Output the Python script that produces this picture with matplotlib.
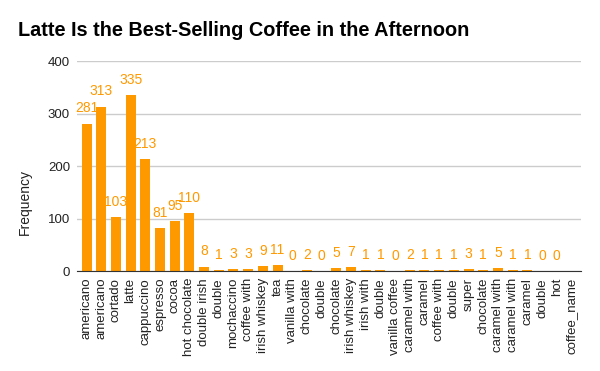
import numpy as np
import matplotlib
matplotlib.use("Agg")
import matplotlib.pyplot as plt

plt.rcParams["font.family"] = ["Liberation Sans", "DejaVu Sans"]

categories = ["americano", "americano", "cortado", "latte", "cappuccino", "espresso",
              "cocoa", "hot chocolate", "double irish", "double", "mochaccino",
              "coffee with", "irish whiskey", "tea", "vanilla with", "chocolate",
              "double", "chocolate", "irish whiskey", "irish with", "double",
              "vanilla coffee", "caramel with", "caramel", "coffee with", "double",
              "super", "chocolate", "caramel with", "caramel with", "caramel",
              "double", "hot", "coffee_name"]
frequency = [281, 313, 103, 335, 213, 81, 95, 110, 8, 1, 3, 3, 9, 11, 0, 2, 0, 5, 7,
             1, 1, 0, 2, 1, 1, 1, 3, 1, 5, 1, 1, 0, 0, np.nan]
yticks = [0, 100, 200, 300, 400]

color = "#FF9900"
fig = plt.figure(figsize=(6, 3.71), dpi=100)
ax = fig.add_axes([0.1283, 0.2695, 0.84, 0.566])
x = np.arange(len(categories))
vals = np.array(frequency, dtype=float)
ax.bar(x, np.nan_to_num(vals), width=0.68, color=color, zorder=3)
for xi, v in zip(x, vals):
    if not np.isnan(v):
        ax.annotate(f"{int(v)}", (xi, v), xytext=(0, 6), textcoords="offset points",
                    ha="center", va="bottom", color=color, fontsize=10, zorder=4)

ax.set_xlim(-0.65, len(categories) - 0.35)
ax.set_ylim(0, 400)
ax.set_yticks(yticks)
ax.set_yticklabels([str(t) for t in yticks], fontsize=9.5, color="#222222")
ax.set_xticks(x)
ax.set_xticklabels(categories, rotation=90, fontsize=9.5, color="#222222")
ax.tick_params(axis="y", length=0, pad=5)
ax.tick_params(axis="x", length=0, pad=5)
ax.grid(axis="y", color="#cccccc", linewidth=1, zorder=0)
for s in ["top", "right", "left"]:
    ax.spines[s].set_visible(False)
ax.spines["bottom"].set_color("#333333")
ax.spines["bottom"].set_zorder(5)
ax.set_ylabel("Frequency", fontsize=10, color="#222222")
ax.yaxis.set_label_coords(-0.089, 0.327)

fig.text(0.03, 0.919, "Latte Is the Best-Selling Coffee in the Afternoon",
         fontsize=14.3, fontweight="bold", ha="left", va="center", color="#000000")

fig.savefig("out.png", dpi=100)
